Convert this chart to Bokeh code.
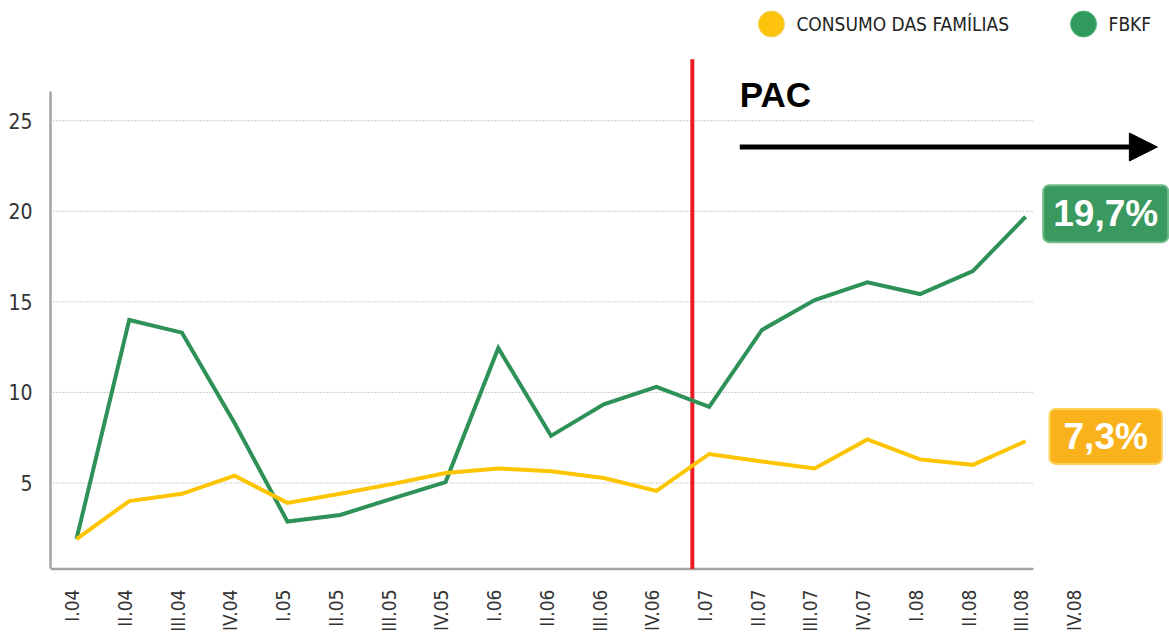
import math
from bokeh.plotting import figure
from bokeh.models import Range1d, FixedTicker, Label, Arrow, NormalHead
from bokeh.embed import file_html
from bokeh.resources import INLINE

# ---------------- data ----------------
quarters = ["I.04", "II.04", "III.04", "IV.04", "I.05", "II.05", "III.05", "IV.05",
            "I.06", "II.06", "III.06", "IV.06", "I.07", "II.07", "III.07", "IV.07",
            "I.08", "II.08", "III.08", "IV.08"]
consumo = [1.9, 4.0, 4.4, 5.4, 3.9, 4.4, 4.95, 5.55, 5.8, 5.65, 5.27, 4.56,
           6.6, 6.18, 5.8, 7.4, 6.3, 6.0, 7.3]
fbkf = [1.9, 14.0, 13.3, 8.3, 2.87, 3.23, 4.15, 5.05, 12.45, 7.6, 9.34, 10.3,
        9.2, 13.45, 15.1, 16.08, 15.43, 16.7, 19.7]
y_ticks = [5, 10, 15, 20, 25]
series_names = ["CONSUMO DAS FAMÍLIAS", "FBKF"]
value_labels = ["19,7%", "7,3%"]
pac_index = 11.68          # start of PAC (I.07)

# ---------------- layout ----------------
X0, X1 = -0.493, 20.73
Y0, Y1 = 0.0, 31.64
AXIS_Y = 0.25
GRID_END = 18.15
LABEL_SHIFT = -0.08
GREEN = "#2e9158"
YELLOW = "#fdc400"
GRAY = "#a3a3a3"
COND = "'DejaVu Sans Condensed', 'Liberation Sans Narrow', 'Roboto Condensed', sans-serif"

x = list(range(len(consumo)))

p = figure(width=1169, height=634, output_backend="svg", toolbar_location=None,
           x_range=Range1d(X0, X1), y_range=Range1d(Y0, Y1),
           min_border_left=50, min_border_right=0, min_border_top=0, min_border_bottom=56)
p.outline_line_color = None
p.xgrid.visible = False
p.ygrid.visible = False
p.background_fill_color = "white"
p.border_fill_color = "white"

# y axis
ya = p.yaxis[0]
ya.ticker = FixedTicker(ticks=y_ticks)
ya.bounds = (AXIS_Y, 26.6)
ya.axis_line_color = GRAY
ya.axis_line_width = 2.5
ya.major_tick_line_color = None
ya.minor_tick_line_color = None
ya.major_label_text_font = COND
ya.major_label_text_font_size = "21px"
ya.major_label_text_color = "#333333"
ya.major_label_standoff = 12

# x axis
tick_pos = [i + LABEL_SHIFT for i in range(len(quarters))]
xa = p.xaxis[0]
xa.ticker = FixedTicker(ticks=tick_pos)
xa.major_label_overrides = {t: q for t, q in zip(tick_pos, quarters)}
xa.major_label_orientation = math.pi / 2
xa.axis_line_color = None
xa.major_tick_line_color = None
xa.minor_tick_line_color = None
xa.major_label_text_font = COND
xa.major_label_text_font_size = "19px"
xa.major_label_text_color = "#333333"
xa.major_label_standoff = 10

# dotted grid lines (limited extent)
p.segment(x0=[X0] * len(y_ticks), x1=[GRID_END] * len(y_ticks), y0=y_ticks, y1=y_ticks,
          line_color="#9a9a9a", line_width=1, line_dash="1 2")
# bottom axis line
p.segment(x0=[X0], x1=[GRID_END], y0=[AXIS_Y], y1=[AXIS_Y], line_color=GRAY, line_width=2.5)

# red PAC line
p.segment(x0=[pac_index], x1=[pac_index], y0=[AXIS_Y], y1=[28.4], line_color="#ed1c24", line_width=4)

# series
p.line(x, fbkf, line_color=GREEN, line_width=4, line_join="miter")
p.line(x, consumo, line_color=YELLOW, line_width=4, line_join="miter")

# legend (manual)
leg_y = 30.34
p.scatter([13.18], [leg_y], size=26, fill_color="#fdc30d", line_color="#f5d35a", line_width=1)
p.scatter([19.10], [leg_y], size=26, fill_color="#2f9a5c", line_color="#5db37f", line_width=1)
p.add_layout(Label(x=13.18, y=leg_y, x_offset=25, text=series_names[0], text_baseline="middle",
                   text_font=COND, text_font_size="19px", text_color="#222222"))
p.add_layout(Label(x=19.10, y=leg_y, x_offset=25, text=series_names[1], text_baseline="middle",
                   text_font=COND, text_font_size="19px", text_color="#222222"))

# PAC annotation
p.add_layout(Label(x=12.58, y=26.45, text="PAC", text_baseline="middle", text_align="left",
                   text_font="Liberation Sans", text_font_style="bold", text_font_size="35px",
                   text_color="black"))
p.add_layout(Arrow(end=NormalHead(size=28, fill_color="black", line_color="black"),
                   x_start=12.58, y_start=23.55, x_end=20.50, y_end=23.55,
                   line_color="black", line_width=5))

# value boxes (padding given as (horizontal, vertical))
last = len(fbkf) - 1
boxes = [(fbkf[last] + 0.17, value_labels[0], "#3a995e", "#6fbb8a", (10, 8)),
         (consumo[last] + 0.27, value_labels[1], "#f9b21c", "#fcd25a", (14, 7))]
for yv, txt, fill, border, pad in boxes:
    p.add_layout(Label(x=last + 1.52, y=yv, x_offset=-1, y_offset=-2, text=txt,
                       text_align="center", text_baseline="middle",
                       text_font="Liberation Sans", text_font_style="bold", text_font_size="37px",
                       text_alpha=0, background_fill_color="#777777", background_fill_alpha=0.35,
                       border_radius=6, padding=(pad[0] + 3, pad[1] + 3)))
    p.add_layout(Label(x=last + 1.52, y=yv, text=txt, text_align="center", text_baseline="middle",
                       text_font="Liberation Sans", text_font_style="bold", text_font_size="37px",
                       text_color="white", background_fill_color=fill,
                       border_line_color=border, border_line_width=2,
                       border_radius=6, padding=pad))

open("out.html", "w").write(file_html(p, INLINE))
